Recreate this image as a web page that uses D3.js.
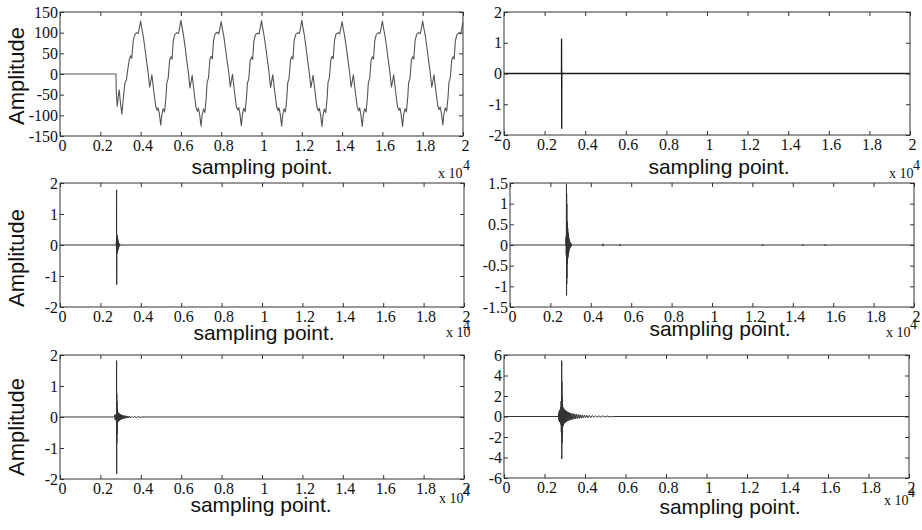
<!DOCTYPE html>
<html><head><meta charset="utf-8">
<script src="https://cdn.jsdelivr.net/npm/d3@7"></script>
<style>body{margin:0;background:#fff;overflow:hidden} svg{display:block}</style>
</head><body><svg id="c" width="922" height="530"></svg>
<script>
// ---------- data ----------
const xTicks = [0,2000,4000,6000,8000,10000,12000,14000,16000,18000,20000];
const xTickLabels = ["0","0.2","0.4","0.6","0.8","1","1.2","1.4","1.6","1.8","2"];
const yTicksA = [-150,-100,-50,0,50,100,150];
const yTicksB = [-2,-1,0,1,2];
const yTicksC = [-1.5,-1,-0.5,0,0.5,1,1.5];
const yTicksD = [-6,-4,-2,0,2,4,6];

// panel (a): original signal [sample, amplitude]
const signalA = [
[0,0],[2780,0],[2790,-40],[2840,-78],[2890,-55],[2940,-38],[3000,-70],[3070,-97],[3140,-60],[3220,-22],[3300,-14],[3360,10],[3440,35],[3510,44],[3560,38],[3640,82],[3720,96],[3800,100],[3880,98],[3940,112],[4000,128],
[4060,110],[4130,92],[4220,60],[4300,30],[4370,5],[4450,-32],[4560,-2],[4650,-40],[4750,-78],[4820,-88],[4870,-82],[4930,-96],[5000,-124],
[5050,-100],[5120,-84],[5190,-92],[5260,-55],[5300,-22],[5370,-10],[5440,34],[5510,42],[5560,36],[5620,80],[5700,96],[5800,100],[5880,98],[5940,112],[6000,130],
[6060,112],[6130,93],[6220,62],[6300,28],[6370,4],[6450,-34],[6560,-3],[6650,-42],[6750,-80],[6820,-90],[6870,-83],[6930,-98],[7000,-126],
[7050,-101],[7120,-85],[7190,-93],[7260,-56],[7300,-21],[7370,-9],[7440,35],[7510,43],[7560,37],[7620,82],[7700,97],[7800,101],[7880,97],[7940,111],[8000,127],
[8060,109],[8130,91],[8220,59],[8300,29],[8370,6],[8450,-31],[8560,-1],[8650,-39],[8750,-79],[8820,-87],[8870,-81],[8930,-97],[9000,-125],
[9050,-99],[9120,-83],[9190,-91],[9260,-54],[9300,-23],[9370,-11],[9440,33],[9510,41],[9560,35],[9620,79],[9700,95],[9800,99],[9880,97],[9940,113],[10000,129],
[10060,111],[10130,92],[10220,61],[10300,31],[10370,5],[10450,-33],[10560,-2],[10650,-41],[10750,-78],[10820,-89],[10870,-82],[10930,-97],[11000,-126],
[11050,-100],[11120,-84],[11190,-92],[11260,-55],[11300,-22],[11370,-10],[11440,34],[11510,42],[11560,36],[11620,81],[11700,96],[11800,100],[11880,98],[11940,112],[12000,130],
[12060,112],[12130,93],[12220,60],[12300,29],[12370,4],[12450,-33],[12560,-3],[12650,-40],[12750,-80],[12820,-89],[12870,-83],[12930,-98],[13000,-127],
[13050,-101],[13120,-85],[13190,-93],[13260,-56],[13300,-21],[13370,-9],[13440,35],[13510,43],[13560,37],[13620,80],[13700,97],[13800,100],[13880,97],[13940,111],[14000,127],
[14060,109],[14130,91],[14220,60],[14300,30],[14370,5],[14450,-32],[14560,-2],[14650,-41],[14750,-79],[14820,-89],[14870,-82],[14930,-98],[15000,-127],
[15050,-100],[15120,-84],[15190,-92],[15260,-55],[15300,-22],[15370,-10],[15440,34],[15510,42],[15560,36],[15620,80],[15700,96],[15800,100],[15880,98],[15940,112],[16000,128],
[16060,110],[16130,92],[16220,61],[16300,30],[16370,5],[16450,-32],[16560,-2],[16650,-40],[16750,-79],[16820,-88],[16870,-82],[16930,-97],[17000,-127],
[17050,-100],[17120,-84],[17190,-92],[17260,-55],[17300,-22],[17370,-10],[17440,34],[17510,42],[17560,36],[17620,80],[17700,96],[17800,100],[17880,98],[17940,112],[18000,128],
[18060,110],[18130,92],[18220,60],[18300,30],[18370,5],[18450,-32],[18560,-2],[18650,-40],[18750,-78],[18820,-86],[18870,-80],[18930,-95],[19000,-123],
[19050,-98],[19120,-82],[19190,-90],[19260,-54],[19300,-21],[19370,-9],[19440,34],[19510,42],[19560,36],[19620,80],[19700,95],[19800,100],[19880,97],[19940,110],[20000,126]
];

// panel (b)
const signalB = [[0,0],[2830,0],[2836,1.12],[2842,-1.78],[2848,0.06],[2856,-0.04],[2866,0],[20000,0]];

// panel (c)
const signalC = [[0,0],[2780,0],[2790,0.12],[2796,-0.15],[2802,1.78],[2808,-1.28],[2814,0.33],[2820,-0.27],[2828,0.3],[2836,-0.24],[2844,0.26],[2852,-0.2],[2860,0.2],[2868,-0.16],[2876,0.14],[2884,-0.12],[2892,0.1],[2900,-0.08],[2910,0.06],[2920,-0.05],[2935,0.04],[2950,-0.03],[2965,0.02],[2980,-0.01],[3000,0],[20000,0]];

// panel (d)
const signalD = [[0,0],[2760,0],[2775,0.2],[2785,-0.25],[2796,1.48],[2800,-1.22],[2804,1.25],[2808,-0.95],[2812,1.0],[2816,-0.8],[2822,0.58],[2828,-0.45],[2834,0.55],[2840,-0.4],[2846,0.5],[2852,-0.35],[2860,0.4],[2868,-0.3],[2876,0.3],[2884,-0.25],[2892,0.25],[2900,-0.2],[2910,0.18],[2920,-0.15],[2930,0.13],[2940,-0.1],[2950,0.1],[2962,-0.08],[2974,0.07],[2986,-0.06],[3000,0.05],[3015,-0.04],[3030,0.03],[3045,-0.02],[3060,0.01],[3080,0],
[4580,0],[4600,0.03],[4610,-0.03],[4620,0],[5430,0],[5450,0.025],[5460,-0.025],[5470,0],[12480,0],[12500,0.02],[12510,-0.02],[12520,0],[14480,0],[14500,0.02],[14510,-0.02],[14520,0],[15580,0],[15600,0.02],[15610,-0.02],[15620,0],[20000,0]];

// panel (e)
const signalE = [[0,0],[2700,0],[2720,0.08],[2730,-0.1],[2745,0.06],[2760,-0.05],[2780,0.03],[2795,-0.2],[2802,1.82],[2806,-1.84],[2810,0.76],[2814,-0.85],[2818,0.5],[2822,-0.55],[2828,0.3],[2834,-0.3],[2840,0.18],[2848,-0.2],[2856,0.15],[2864,-0.16],[2872,0.14],[2880,-0.14],[2890,0.13],[2900,-0.13],[2910,0.12],[2920,-0.12],[2932,0.11],[2944,-0.11],[2956,0.1],[2968,-0.1],[2980,0.09],[2995,-0.09],[3010,0.08],[3025,-0.08],[3040,0.07],[3060,-0.07],[3080,0.06],[3100,-0.06],[3125,0.05],[3150,-0.05],[3175,0.045],[3200,-0.045],[3230,0.04],[3260,-0.04],[3290,0.035],[3320,-0.035],[3360,0.03],[3400,-0.03],[3450,0.025],[3500,-0.025],[3560,0.02],[3620,-0.02],[3700,0.015],[3780,-0.015],[3870,0.01],[3960,-0.01],[4050,0],[20000,0]];

// panel (f)
const signalF = [[0,0],[2680,0],[2700,0.3],[2712,-0.4],[2724,0.5],[2736,-0.5],[2748,0.6],[2760,-0.5],[2772,0.7],[2784,-0.6],[2796,0.9],[2808,-0.8],[2820,1.5],[2830,-1.5],[2840,2.5],[2846,-2.6],[2850,5.45],[2854,-4.15],[2858,3.4],[2862,-2.6],[2868,2.0],[2874,-1.8],[2880,1.3],[2886,-1.2],[2894,1.0],[2902,-1.0],[2910,0.9],[2920,-0.9],[2930,0.8],[2940,-0.8],[2952,0.75],[2964,-0.7],[2976,0.7],[2990,-0.65],[3004,0.65],[3018,-0.6],[3034,0.6],[3050,-0.55],[3068,0.55],[3086,-0.5],[3105,0.5],[3125,-0.45],[3145,0.45],[3165,-0.42],[3190,0.4],[3215,-0.38],[3240,0.36],[3265,-0.34],[3295,0.32],[3325,-0.3],[3355,0.3],[3390,-0.28],[3425,0.27],[3460,-0.25],[3500,0.24],[3540,-0.22],[3580,0.21],[3620,-0.2],[3665,0.19],[3710,-0.18],[3760,0.17],[3810,-0.16],[3860,0.15],[3915,-0.14],[3970,0.14],[4030,-0.13],[4090,0.12],[4150,-0.12],[4220,0.11],[4290,-0.1],[4360,0.1],[4440,-0.09],[4520,0.08],[4600,-0.08],[4690,0.07],[4780,-0.07],[4880,0.06],[4980,-0.05],[5100,0.04],[5250,-0.03],[5400,0],[20000,0]];

const xAxisTitle = "sampling point.";
const yAxisTitle = "Amplitude";

// ---------- layout ----------
const panels = [
  {box:[60,12,463,136], yDomain:[-150,150], yTicks:yTicksA, data:signalA, color:"#555", sw:1.1, ylab:true, ylabY:76, xlabX:262, xlabY:174, exp:{x:438, y:178, sx:463, sy:170}},
  {box:[504,12,910,135], yDomain:[-2,2], yTicks:yTicksB, data:signalB, color:"#1a1a1a", sw:1.3, ylab:false, xlabX:719, xlabY:174, exp:{x:889, y:178, sx:913, sy:170}},
  {box:[60,183,464,307], yDomain:[-2,2], yTicks:yTicksB, data:signalC, color:"#333", sw:1, ylab:true, ylabY:258, xlabX:264, xlabY:340, exp:{x:446, y:337, sx:463, sy:330}},
  {box:[510,183,914,307], yDomain:[-1.5,1.5], yTicks:yTicksC, data:signalD, color:"#333", sw:1, ylab:false, xlabX:720, xlabY:336, exp:{x:886, y:337, sx:910, sy:329}},
  {box:[60,355,464,479], yDomain:[-2,2], yTicks:yTicksB, data:signalE, color:"#333", sw:1, ylab:true, ylabY:427, xlabX:261, xlabY:512, exp:{x:439, y:503, sx:463, sy:496}},
  {box:[504,355,909,478], yDomain:[-6,6], yTicks:yTicksD, data:signalF, color:"#333", sw:1, ylab:false, xlabX:730, xlabY:514, exp:{x:884, y:505, sx:908, sy:497}}
];

const SERIF = '"Liberation Serif"';
const SANS = '"Liberation Sans"';
const svg = d3.select("#c");

panels.forEach((p, i) => {
  const [x0,y0,x1,y1] = p.box;
  const x = d3.scaleLinear().domain([0,20000]).range([x0,x1]);
  const y = d3.scaleLinear().domain(p.yDomain).range([y1,y0]);
  const g = svg.append("g");

  const clipId = "clip"+i;
  svg.append("clipPath").attr("id", clipId).append("rect")
    .attr("x", x0).attr("y", y0).attr("width", x1-x0).attr("height", y1-y0);

  const line = d3.line().x(d => x(d[0])).y(d => y(d[1]));
  g.append("path").datum(p.data).attr("clip-path", `url(#${clipId})`)
    .attr("d", line).attr("fill","none").attr("stroke", p.color)
    .attr("stroke-width", p.sw).attr("stroke-linejoin","round");

  const fmtX = (d) => xTickLabels[xTicks.indexOf(d)];
  const gb = g.append("g").attr("transform", `translate(0,${y1})`)
    .call(d3.axisBottom(x).tickValues(xTicks).tickFormat(fmtX).tickSize(-4).tickPadding(4));
  const gt = g.append("g").attr("transform", `translate(0,${y0})`)
    .call(d3.axisTop(x).tickValues(xTicks).tickFormat("").tickSize(-4));
  const gl = g.append("g").attr("transform", `translate(${x0},0)`)
    .call(d3.axisLeft(y).tickValues(p.yTicks).tickFormat(d => String(d)).tickSize(-4).tickPadding(2));
  const gr = g.append("g").attr("transform", `translate(${x1},0)`)
    .call(d3.axisRight(y).tickValues(p.yTicks).tickFormat("").tickSize(-4));

  [gb,gt,gl,gr].forEach(a => {
    a.select(".domain").remove();
    a.selectAll(".tick line").attr("stroke","#333");
    a.selectAll("text").style("font-family", SERIF).style("font-size","16px").attr("fill","#111");
  });
  gb.selectAll(".tick text").attr("dx", 2);

  g.append("rect").attr("x", x0).attr("y", y0).attr("width", x1-x0).attr("height", y1-y0)
    .attr("fill","none").attr("stroke","#333").attr("stroke-width",1);

  g.append("text").attr("x", p.xlabX).attr("y", p.xlabY).attr("text-anchor","middle")
    .style("font-family", SANS).style("font-size","21px").attr("fill","#111").text(xAxisTitle);

  g.append("text").attr("x", p.exp.x).attr("y", p.exp.y)
    .style("font-family", SERIF).style("font-size","14px").attr("fill","#111").text("x 10");
  g.append("text").attr("x", p.exp.sx).attr("y", p.exp.sy)
    .style("font-family", SERIF).style("font-size","14px").attr("fill","#111").text("4");

  if (p.ylab) {
    g.append("text").attr("transform", `translate(24,${p.ylabY}) rotate(-90)`)
      .attr("text-anchor","middle").style("font-family", SANS).style("font-size","22px")
      .attr("fill","#111").text(yAxisTitle);
  }
});
</script>
</body></html>
